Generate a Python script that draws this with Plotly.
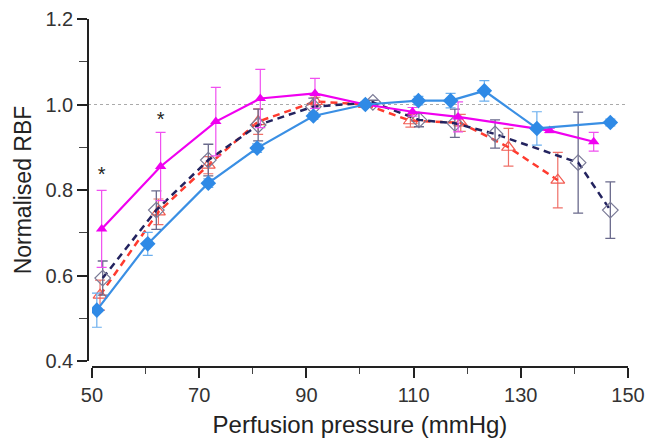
import plotly.graph_objects as go

# perfusion pressure (mmHg) and normalised RBF
blue_x = [50.9, 60.4, 71.7, 80.8, 91.3, 101.0, 110.9, 116.9, 123.2, 133.0, 146.7]
blue_y = [0.519, 0.674, 0.816, 0.898, 0.973, 1.000, 1.009, 1.009, 1.032, 0.944, 0.958]
blue_err = [0.040, 0.027, 0.010, 0.010, 0.008, 0.005, 0.010, 0.017, 0.024, 0.039, 0.008]

magenta_x = [51.8, 62.8, 73.1, 81.4, 91.6, 101.0, 109.8, 118.3, 135.4, 143.6]
magenta_y = [0.709, 0.855, 0.960, 1.014, 1.026, 1.000, 0.983, 0.971, 0.939, 0.913]
magenta_err = [0.090, 0.080, 0.080, 0.068, 0.035, 0.005, 0.010, 0.035, 0.005, 0.022]

red_x = [51.5, 62.4, 71.7, 81.0, 91.7, 101.0, 109.4, 118.8, 127.7, 136.9]
red_y = [0.554, 0.749, 0.858, 0.960, 1.007, 1.000, 0.962, 0.957, 0.900, 0.823]
red_err = [0.035, 0.030, 0.020, 0.030, 0.010, 0.005, 0.015, 0.020, 0.044, 0.065]

navy_x = [52.0, 62.0, 71.7, 81.0, 91.3, 102.4, 111.0, 117.7, 125.2, 140.7, 146.7]
navy_y = [0.594, 0.753, 0.870, 0.952, 0.995, 1.005, 0.964, 0.956, 0.931, 0.864, 0.753]
navy_err = [0.040, 0.045, 0.037, 0.037, 0.020, 0.005, 0.016, 0.033, 0.033, 0.118, 0.066]

star_x = [51.8, 62.8]
star_y = [0.833, 0.961]

FONT = "Liberation Sans, Arial, sans-serif"

fig = go.Figure()

# dashed series with open markers
fig.add_trace(go.Scatter(
    x=red_x, y=red_y, mode="lines+markers",
    line=dict(color="#ff3b2f", width=2.5, dash="7px,5px"),
    marker=dict(symbol="triangle-up-open", size=12, color="#f25a50", line=dict(width=1.2)),
    error_y=dict(type="data", array=red_err, color="#f07068", thickness=1.2, width=5),
))
fig.add_trace(go.Scatter(
    x=navy_x, y=navy_y, mode="lines+markers",
    line=dict(color="#23235f", width=2.5, dash="7px,5px"),
    marker=dict(symbol="diamond-open", size=12, color="#7a7a96", line=dict(width=1.2)),
    error_y=dict(type="data", array=navy_err, color="#6a6a8c", thickness=1.3, width=5),
))
# solid series with filled markers
fig.add_trace(go.Scatter(
    x=magenta_x, y=magenta_y, mode="lines+markers",
    line=dict(color="#f000f0", width=2.2),
    marker=dict(symbol="triangle-up", size=10, color="#f000f0"),
    error_y=dict(type="data", array=magenta_err, color="#f050f0", thickness=1.2, width=5),
))
fig.add_trace(go.Scatter(
    x=blue_x, y=blue_y, mode="lines+markers",
    line=dict(color="#3a8fe4", width=2.2),
    marker=dict(symbol="diamond", size=12, color="#2f8ae6"),
    error_y=dict(type="data", array=blue_err, color="#6aaeee", thickness=1.2, width=5),
))

fig.add_trace(go.Scatter(
    x=star_x, y=star_y, mode="text", text=["*", "*"],
    textfont=dict(family=FONT, size=20, color="#222222"),
))

# reference line at 1.0
fig.add_shape(type="line", xref="paper", yref="y", x0=0, x1=1, y0=1.0, y1=1.0,
              line=dict(color="#aaaaaa", width=1, dash="dot"), layer="below")

fig.update_layout(
    width=646, height=440,
    margin=dict(l=88, r=18, t=19, b=73),
    plot_bgcolor="white", paper_bgcolor="white",
    showlegend=False,
    font=dict(family=FONT, size=20, color="#333333"),
    xaxis=dict(
        range=[50, 150], domain=[0.0074, 1], anchor="free", position=0, automargin=False,
        tickvals=[50, 70, 90, 110, 130, 150], ticklabeloverflow="allow",
        showline=True, linecolor="#222222", linewidth=1.5,
        ticks="outside", ticklen=10, tickwidth=1.5, tickcolor="#222222",
        minor=dict(tickvals=[60, 80, 100, 120, 140], ticks="outside", ticklen=6,
                   tickwidth=1.2, tickcolor="#444444"),
        showgrid=False, zeroline=False,
        tickfont=dict(size=20, color="#333333"),
        title=dict(text="Perfusion pressure (mmHg)", font=dict(size=24, color="#222222"), standoff=10),
    ),
    yaxis=dict(
        range=[0.4, 1.2], domain=[0.0172, 1], anchor="free", position=0, automargin=False,
        tickvals=[0.4, 0.6, 0.8, 1.0, 1.2], ticktext=["0.4", "0.6", "0.8", "1.0", "1.2"],
        showline=True, linecolor="#222222", linewidth=1.5,
        ticks="outside", ticklen=10, tickwidth=1.5, tickcolor="#222222",
        minor=dict(tickvals=[0.5, 0.7, 0.9, 1.1], ticks="outside", ticklen=8,
                   tickwidth=1.2, tickcolor="#444444"),
        showgrid=False, zeroline=False,
        tickfont=dict(size=20, color="#333333"),
        title=dict(text="Normalised RBF", font=dict(size=23, color="#222222"), standoff=6),
    ),
)

# drop the browser's default body margin so the figure sits at the page origin
fig.write_html("out.html", config={"displayModeBar": False},
               post_script="document.body.style.margin='0';")
